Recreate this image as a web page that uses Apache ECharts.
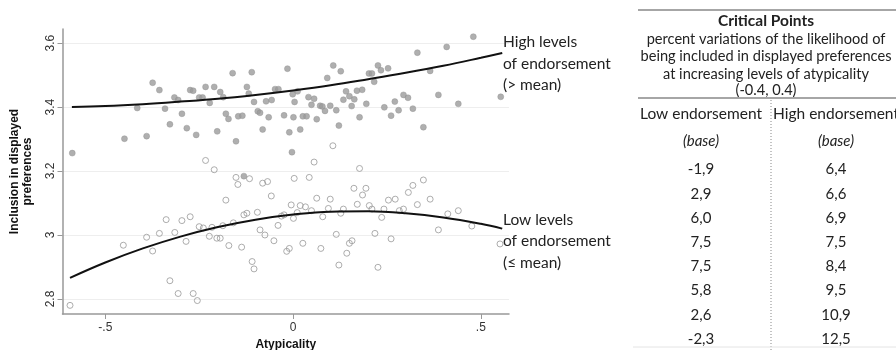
<!DOCTYPE html>
<html><head><meta charset="utf-8">
<script src="https://cdn.jsdelivr.net/npm/echarts@6/dist/echarts.min.js"></script>
<style>html,body{margin:0;padding:0;background:#fff}#c{width:896px;height:350px}</style>
</head><body><div id="c"></div>
<script>
// ---- axis ticks ----
const xTicks = [-0.5, 0, 0.5];
const xTickLabels = ['-.5', '0', '.5'];
const yTicks = [2.8, 3.0, 3.2, 3.4, 3.6];
const yTickLabels = ['2.8', '3', '3.2', '3.4', '3.6'];

// ---- scatter: high endorsement (> mean), filled ----
const highPoints = [
[-0.588,3.256],[-0.449,3.301],[-0.415,3.397],[-0.390,3.309],[-0.374,3.476],[-0.356,3.453],[-0.341,3.395],[-0.328,3.346],[-0.316,3.430],[-0.306,3.422],[-0.296,3.379],[-0.283,3.334],[-0.274,3.453],[-0.266,3.451],[-0.258,3.313],[-0.250,3.430],[-0.241,3.430],[-0.233,3.463],[-0.222,3.413],
[-0.210,3.463],[-0.194,3.447],[-0.186,3.431],[-0.179,3.379],[-0.172,3.363],[-0.202,3.324],[-0.161,3.506],[-0.152,3.293],[-0.146,3.371],[-0.135,3.373],[-0.123,3.463],[-0.118,3.442],[-0.110,3.509],[-0.104,3.416],[-0.094,3.387],[-0.088,3.382],[-0.081,3.330],[-0.072,3.418],[-0.065,3.368],[-0.057,3.422],[-0.048,3.456],[-0.039,3.456],[-0.024,3.374],[-0.015,3.520],[-0.010,3.321],[-0.003,3.259],[-0.001,3.440],[0.001,3.368],[0.004,3.416],[0.012,3.449],[0.019,3.330],[0.026,3.371],[0.036,3.371],[0.041,3.431],[0.049,3.407],[0.056,3.426],[0.063,3.362],[0.072,3.404],[0.078,3.402],[0.085,3.388],[0.091,3.491],[0.099,3.404],[0.107,3.530],[0.115,3.390],[0.122,3.342],[0.127,3.512],[0.134,3.423],[0.141,3.449],[0.150,3.434],[0.156,3.403],[0.163,3.424],[0.170,3.451],[0.177,3.368],[0.184,3.454],
[0.195,3.410],[0.202,3.505],[0.210,3.505],[0.216,3.479],[0.226,3.530],[0.234,3.515],[0.243,3.399],[0.253,3.521],[0.261,3.373],[0.271,3.417],[0.281,3.390],[0.294,3.438],[0.306,3.429],[0.319,3.395],[0.331,3.570],[0.347,3.337],[0.365,3.513],[0.387,3.438],[0.409,3.588],[0.440,3.410],[0.480,3.620],[0.553,3.432],
[-0.131,3.184]
];

// ---- scatter: low endorsement (<= mean), hollow ----
const lowPoints = [
[-0.594,2.780],[-0.452,2.968],[-0.390,2.993],[-0.374,2.950],[-0.356,3.005],[-0.338,3.048],[-0.328,2.857],[-0.315,3.008],[-0.306,2.817],[-0.296,3.045],[-0.285,2.980],[-0.274,3.057],[-0.266,2.817],[-0.255,2.795],[-0.250,3.026],[-0.239,3.022],[-0.233,3.233],[-0.223,2.996],[-0.216,3.024],[-0.210,3.204],
[-0.203,2.990],[-0.194,2.990],[-0.187,3.029],[-0.179,3.109],[-0.171,2.967],[-0.159,3.038],[-0.152,3.180],[-0.147,3.158],[-0.137,2.962],[-0.131,3.063],[-0.123,3.068],[-0.116,3.176],[-0.109,2.917],[-0.104,2.894],[-0.095,3.071],[-0.088,3.016],[-0.081,3.162],[-0.075,3.000],[-0.068,3.167],[-0.058,3.122],[-0.051,2.982],[-0.040,3.030],[-0.031,3.059],[-0.024,3.063],[-0.017,2.949],[-0.010,2.958],[-0.005,3.094],
[0.001,3.052],[0.003,3.177],[0.011,3.070],[0.019,3.092],[0.026,2.974],[0.033,3.088],[0.043,3.180],[0.049,3.076],[0.056,3.228],[0.063,3.115],[0.074,2.958],[0.079,3.057],[0.094,3.083],[0.099,3.112],[0.106,3.279],[0.115,3.002],[0.122,2.906],[0.127,3.068],[0.134,3.081],[0.143,2.943],[0.150,2.974],[0.157,2.982],[0.162,3.146],[0.171,3.096],[0.177,3.208],[0.185,3.125],[0.194,3.146],[0.203,3.092],[0.210,3.081],[0.218,3.005],[0.226,2.899],[0.236,3.055],[0.242,3.081],[0.254,3.109],[0.261,2.988],[0.272,3.112],[0.283,3.076],[0.294,3.081],[0.307,3.133],[0.319,3.155],[0.331,3.095],[0.347,3.172],[0.365,3.112],[0.387,3.016],[0.412,3.066],[0.440,3.076],[0.476,3.028],[0.551,2.972]
];

// ---- fitted curves ----
const highFitX = [-0.589,-0.5,-0.4,-0.3,-0.2,-0.1,0,0.1,0.2,0.3,0.4,0.5,0.557];
const highFitY = [3.400,3.403,3.409,3.417,3.426,3.438,3.452,3.468,3.487,3.507,3.529,3.554,3.569];
const lowFitX  = [-0.594,-0.5,-0.4,-0.3,-0.2,-0.1,0,0.1,0.2,0.3,0.4,0.5,0.557];
const lowFitY  = [2.866,2.914,2.958,2.995,3.025,3.048,3.064,3.073,3.074,3.068,3.055,3.035,3.020];

// ---- labels ----
const highLabel = ['High levels', 'of endorsement', '(> mean)'];
const lowLabel = ['Low levels', 'of endorsement', '(\u2264 mean)'];

// ---- table ----
const tableTitle = 'Critical Points';
const tableSubtitle = ['percent variations of the likelihood of', 'being included in displayed preferences', 'at increasing levels of atypicality', '(-0.4, 0.4)'];
const tableColumns = ['Low endorsement', 'High endorsement'];
const tableBase = '(base)';
const lowEndorsement = ['-1,9', '2,9', '6,0', '7,5', '7,5', '5,8', '2,6', '-2,3'];
const highEndorsement = ['6,4', '6,6', '6,9', '7,5', '8,4', '9,5', '10,9', '12,5'];

const chart = echarts.init(document.getElementById('c'), null, {renderer: 'canvas'});
const SANS = 'Liberation Sans, Arial, sans-serif';
const TFONT = 'Lato, "Noto Sans", sans-serif';

const xLabelMap = {}; xTicks.forEach((v, i) => xLabelMap[v.toFixed(2)] = xTickLabels[i]);
const yLabelMap = {}; yTicks.forEach((v, i) => yLabelMap[v.toFixed(2)] = yTickLabels[i]);

const graphics = [];
// annotations
graphics.push({type: 'text', left: 503, top: 31, z: 100, style: {text: highLabel.join('\n'), font: '15.5px ' + TFONT, fill: '#222', lineHeight: 21.7}});
graphics.push({type: 'text', left: 503, top: 209, z: 100, style: {text: lowLabel.join('\n'), font: '15.5px ' + TFONT, fill: '#222', lineHeight: 21.5}});
// table
const cx = 766, colL = 701, colR = 836;
const tTxt = (t, x, y, font) => graphics.push({type: 'text', x: x, y: y, style: {text: t, font: font, fill: '#222', align: 'center', verticalAlign: 'middle'}});
graphics.push({type: 'line', shape: {x1: 638, y1: 10, x2: 896, y2: 10}, style: {stroke: '#888', lineWidth: 1.5}});
tTxt(tableTitle, cx, 21, 'bold 15.5px ' + TFONT);
const subY = [39, 56.5, 74, 90];
tableSubtitle.forEach((t, i) => tTxt(t, cx, subY[i], '14.6px ' + TFONT));
graphics.push({type: 'line', shape: {x1: 638, y1: 98, x2: 896, y2: 98}, style: {stroke: '#888', lineWidth: 1.5}});
graphics.push({type: 'line', shape: {x1: 771, y1: 100, x2: 771, y2: 350}, style: {stroke: '#888', lineWidth: 1, lineDash: [1, 2]}});
graphics.push({type: 'line', shape: {x1: 633, y1: 347, x2: 896, y2: 347}, style: {stroke: '#e4e4e4', lineWidth: 1}});
[colL, colR].forEach((c, i) => {
  tTxt(tableColumns[i], c, 113.5, '15.5px ' + TFONT);
  tTxt(tableBase, c, 141.5, 'italic 15px ' + TFONT);
});
lowEndorsement.forEach((v, i) => tTxt(v, colL, 169.5 + i * 24.2, '15px ' + TFONT));
highEndorsement.forEach((v, i) => tTxt(v, colR, 169.5 + i * 24.2, '15px ' + TFONT));

chart.setOption({
  animation: false,
  backgroundColor: '#fff',
  grid: {left: 62.5, right: 387, top: 29, bottom: 36, containLabel: false, outerBoundsMode: 'none'},
  xAxis: {
    type: 'value', min: -0.614, max: 0.575,
    name: 'Atypicality', nameLocation: 'middle', nameGap: 22,
    nameTextStyle: {fontFamily: SANS, fontWeight: 'bold', fontSize: 12, color: '#111'},
    axisLine: {onZero: false, lineStyle: {color: '#999', width: 1.5}},
    axisTick: {show: true, length: 5, lineStyle: {color: '#999'}, customValues: xTicks},
    axisLabel: {customValues: xTicks, fontFamily: SANS, fontSize: 12, color: '#333', margin: 8,
      formatter: v => xLabelMap[Number(v).toFixed(2)] ?? ''},
    splitLine: {show: false}
  },
  yAxis: {
    type: 'value', min: 2.753, max: 3.644,
    name: 'Inclusion in displayed\npreferences', nameLocation: 'middle', nameGap: 28,
    nameTextStyle: {fontFamily: SANS, fontWeight: 'bold', fontSize: 12, color: '#111', lineHeight: 13},
    axisLine: {show: true, onZero: false, lineStyle: {color: '#999', width: 1.5}},
    axisTick: {show: true, length: 5, lineStyle: {color: '#999'}, customValues: yTicks},
    axisLabel: {customValues: yTicks, rotate: 90, fontFamily: SANS, fontSize: 12, color: '#333', margin: 6,
      formatter: v => yLabelMap[Number(v).toFixed(2)] ?? ''},
    splitLine: {show: true, lineStyle: {color: '#eeeeee', width: 1}}
  },
  series: [
    {type: 'scatter', data: highPoints, symbol: 'circle', symbolSize: 6, z: 2,
      itemStyle: {color: '#9b9b9b', borderColor: '#8e8e8e', borderWidth: 0.5}},
    {type: 'scatter', data: lowPoints, symbol: 'circle', symbolSize: 6, z: 2,
      itemStyle: {color: 'rgba(255,255,255,0)', borderColor: '#999', borderWidth: 1}},
    {type: 'line', data: highFitX.map((x, i) => [x, highFitY[i]]), smooth: 0.4, showSymbol: false, z: 5,
      lineStyle: {color: '#111', width: 2}},
    {type: 'line', data: lowFitX.map((x, i) => [x, lowFitY[i]]), smooth: 0.4, showSymbol: false, z: 5,
      lineStyle: {color: '#111', width: 2}}
  ],
  graphic: graphics
});
</script>
</body></html>
